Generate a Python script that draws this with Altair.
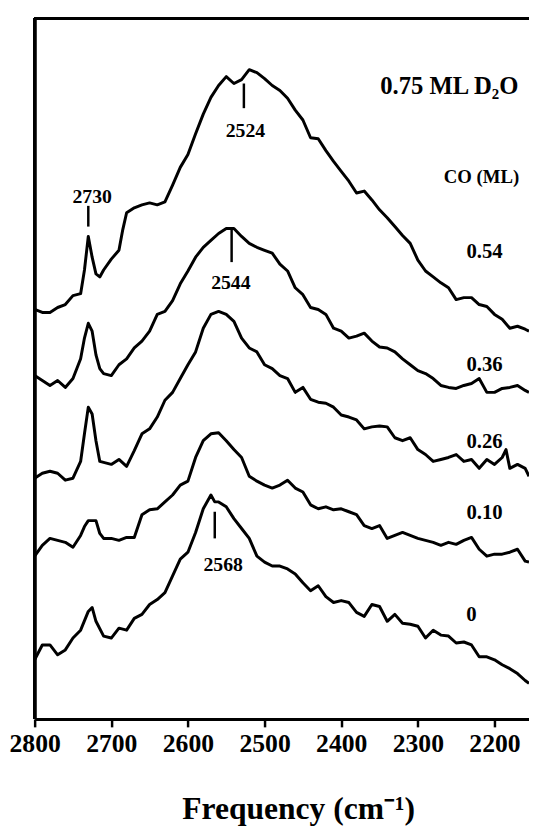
import altair as alt
import pandas as pd

# ---- spectra (frequency in cm-1, intensity in arbitrary stacked units) ----
freq_054 = [2800, 2790, 2780, 2770, 2760, 2750, 2740, 2735, 2730, 2725, 2720, 2715, 2710, 2700, 2690, 2685,
            2680, 2670, 2660, 2650, 2640, 2630, 2620, 2610, 2600, 2590, 2580, 2570, 2560, 2550, 2540, 2530,
            2520, 2510, 2500, 2490, 2480, 2470, 2460, 2450, 2440, 2430, 2420, 2410, 2400, 2390, 2380, 2370,
            2360, 2350, 2340, 2330, 2320, 2310, 2300, 2290, 2280, 2270, 2260, 2250, 2240, 2230, 2220, 2210,
            2200, 2190, 2180, 2170, 2160, 2155]
int_054 = [415, 412, 412, 417, 420, 429, 431, 455, 489, 468, 451, 448, 455, 466, 475, 496,
           513, 518, 521, 523, 521, 524, 541, 559, 572, 593, 613, 630, 642, 651, 644, 648,
           658, 655, 649, 642, 637, 629, 617, 607, 589, 588, 576, 565, 555, 545, 533, 535,
           526, 516, 508, 499, 490, 482, 465, 454, 448, 442, 437, 425, 427, 427, 420, 418,
           410, 405, 396, 398, 395, 393]

freq_036 = [2800, 2790, 2780, 2770, 2760, 2750, 2740, 2735, 2730, 2725, 2720, 2715, 2710, 2700, 2690, 2680,
            2670, 2660, 2650, 2640, 2630, 2620, 2610, 2600, 2590, 2580, 2570, 2560, 2550, 2540, 2530, 2520,
            2510, 2500, 2490, 2480, 2470, 2460, 2450, 2440, 2430, 2420, 2410, 2400, 2390, 2380, 2370, 2360,
            2350, 2340, 2330, 2320, 2310, 2300, 2290, 2280, 2270, 2260, 2250, 2240, 2230, 2220, 2210, 2200,
            2190, 2180, 2170, 2160, 2155]
int_036 = [348, 343, 338, 343, 336, 345, 365, 386, 401, 393, 369, 355, 350, 348, 359, 365,
           376, 383, 393, 410, 413, 424, 441, 454, 468, 478, 485, 492, 497, 497, 489, 482,
           478, 475, 472, 461, 454, 437, 430, 417, 415, 410, 396, 393, 386, 388, 391, 383,
           377, 376, 372, 365, 359, 353, 350, 345, 338, 336, 335, 338, 340, 345, 331, 331,
           335, 336, 338, 333, 331]

freq_026 = [2800, 2790, 2780, 2770, 2760, 2750, 2740, 2735, 2730, 2725, 2720, 2715, 2710, 2700, 2690, 2680,
            2670, 2660, 2650, 2640, 2630, 2620, 2610, 2600, 2590, 2580, 2570, 2560, 2550, 2540, 2530, 2520,
            2510, 2500, 2490, 2480, 2470, 2460, 2450, 2440, 2430, 2420, 2410, 2400, 2390, 2380, 2370, 2360,
            2350, 2340, 2330, 2320, 2310, 2300, 2290, 2280, 2270, 2260, 2250, 2240, 2230, 2220, 2210, 2200,
            2190, 2185, 2180, 2170, 2160, 2155]
int_026 = [244, 249, 251, 249, 242, 244, 261, 289, 316, 309, 282, 261, 260, 258, 263, 256,
           272, 289, 294, 306, 323, 331, 345, 359, 372, 396, 410, 413, 410, 403, 386, 376,
           372, 359, 355, 348, 345, 331, 336, 324, 321, 320, 316, 308, 306, 303, 294, 296,
           297, 296, 285, 282, 285, 273, 268, 261, 263, 265, 268, 261, 263, 254, 263, 258,
           265, 273, 254, 258, 254, 246]

freq_010 = [2800, 2790, 2780, 2770, 2760, 2750, 2740, 2735, 2730, 2720, 2715, 2710, 2700, 2690, 2680, 2670,
            2660, 2650, 2640, 2630, 2620, 2610, 2600, 2590, 2580, 2570, 2560, 2550, 2540, 2530, 2520, 2510,
            2500, 2490, 2480, 2470, 2460, 2450, 2440, 2430, 2420, 2410, 2400, 2390, 2380, 2370, 2360, 2350,
            2340, 2330, 2320, 2310, 2300, 2290, 2280, 2270, 2260, 2250, 2240, 2230, 2220, 2210, 2200, 2190,
            2180, 2170, 2160, 2155]
int_010 = [165, 176, 183, 181, 179, 174, 186, 195, 201, 201, 188, 183, 183, 181, 184, 184,
           207, 212, 213, 220, 227, 237, 241, 265, 282, 289, 290, 282, 273, 265, 246, 241,
           237, 234, 237, 242, 234, 230, 217, 213, 215, 212, 213, 210, 207, 196, 193, 196,
           183, 186, 189, 186, 183, 181, 179, 176, 179, 177, 181, 184, 172, 165, 167, 167,
           169, 172, 160, 159]

freq_000 = [2800, 2790, 2780, 2770, 2760, 2750, 2740, 2730, 2725, 2720, 2710, 2700, 2690, 2680, 2670, 2660,
            2650, 2640, 2630, 2620, 2610, 2600, 2590, 2580, 2570, 2565, 2560, 2550, 2540, 2530, 2520, 2510,
            2500, 2490, 2480, 2470, 2460, 2450, 2440, 2430, 2420, 2410, 2400, 2390, 2380, 2370, 2360, 2350,
            2340, 2330, 2320, 2310, 2300, 2290, 2280, 2270, 2260, 2250, 2240, 2230, 2220, 2210, 2200, 2190,
            2180, 2170, 2160, 2155]
int_000 = [60, 75, 75, 65, 70, 82, 90, 109, 113, 99, 84, 82, 92, 90, 102, 106,
           116, 121, 128, 145, 162, 169, 189, 213, 227, 220, 220, 215, 203, 193, 183, 165,
           159, 155, 155, 152, 147, 138, 130, 135, 124, 118, 120, 118, 108, 104, 116, 114,
           99, 106, 97, 96, 94, 82, 90, 85, 84, 77, 78, 75, 63, 63, 60, 55,
           51, 46, 39, 36]

series = [("0.54", freq_054, int_054), ("0.36", freq_036, int_036), ("0.26", freq_026, int_026),
          ("0.10", freq_010, int_010), ("0", freq_000, int_000)]

rows = []
for name, fr, iv in series:
    for f, v in zip(fr, iv):
        rows.append({"freq": f, "intensity": v, "co": name})
spec = pd.DataFrame(rows)

# ---- annotations ----
ann_text = ["2730", "2524", "2544", "2568", "0.54", "0.36", "0.26", "0.10", "0", "CO (ML)", "0.75 ML D\u2082O"]
ann_freq = [2725, 2525, 2544, 2554, 2213, 2213, 2213, 2213, 2230, 2217, 2259]
ann_int = [523, 590, 436, 150, 467, 353, 275, 203, 99, 543, 633]
ann_size = [20, 20, 20, 20, 21, 21, 21, 21, 21, 19, 25]
ann = pd.DataFrame({"text": ann_text, "freq": ann_freq, "intensity": ann_int, "fs": ann_size})

mark_freq = [2730, 2527, 2543, 2565]
mark_lo = [499, 619, 463, 183]
mark_hi = [520, 644, 496, 210]
marks = pd.DataFrame({"freq": mark_freq, "lo": mark_lo, "hi": mark_hi})

x_ticks = [2800, 2700, 2600, 2500, 2400, 2300, 2200]

FONT = "Liberation Serif"
W, H = 501, 710

xscale = alt.Scale(domain=[2800, 2155], nice=False)
yscale = alt.Scale(domain=[0, 710], nice=False, zero=False)

xaxis = alt.Axis(values=x_ticks, format="d", grid=False, labelFlush=False,
                 domainColor="black", domainWidth=3, tickColor="black", tickWidth=2.5, tickSize=8,
                 labelFont=FONT, labelFontSize=26, labelFontWeight="bold", labelColor="black",
                 labelPadding=4, title="Frequency (cm\u207b\u00b9)", titleFont=FONT, titleFontSize=32,
                 titleFontWeight="bold", titleColor="black", titleX=267, titleY=101,
                 titleAlign="center", titleBaseline="alphabetic")

lines = alt.Chart(spec).mark_line(color="black", strokeWidth=3, strokeJoin="round").encode(
    x=alt.X("freq:Q", scale=xscale, axis=xaxis),
    y=alt.Y("intensity:Q", scale=yscale, axis=None),
    detail="co:N",
)

texts = alt.Chart(ann).mark_text(font=FONT, fontWeight="bold", color="black",
                                 align="center", baseline="alphabetic").encode(
    x=alt.X("freq:Q", scale=xscale),
    y=alt.Y("intensity:Q", scale=yscale),
    text="text:N",
    size=alt.Size("fs:Q", scale=None, legend=None),
)

ticks = alt.Chart(marks).mark_rule(color="black", strokeWidth=2.5).encode(
    x=alt.X("freq:Q", scale=xscale),
    y=alt.Y("lo:Q", scale=yscale),
    y2="hi:Q",
)

left = alt.Chart(ann).mark_rule(color="black", strokeWidth=3).encode(
    x=alt.value(0), y=alt.value(0), y2=alt.value(H))
top = alt.Chart(ann).mark_rule(color="black", strokeWidth=3).encode(
    x=alt.value(0), x2=alt.value(W), y=alt.value(0))

chart = alt.layer(lines, ticks, texts, left, top).properties(
    width=W, height=H,
    autosize=alt.AutoSizeParams(type="none"),
    padding={"left": 27, "top": 5, "right": 0, "bottom": 107},
).configure_view(stroke=None).configure(background="white")

chart.save("out.html", embed_options={"renderer": "svg", "actions": False})
